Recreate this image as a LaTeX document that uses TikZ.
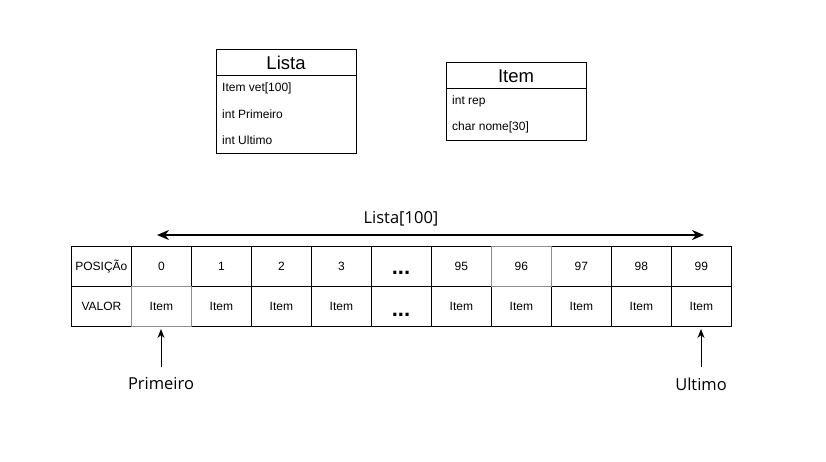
\documentclass[tikz,border=0pt]{standalone}
\usepackage{fontspec}
\setmainfont{Liberation Sans}
\newfontfamily\labelfont{Open Sans}
\usetikzlibrary{arrows.meta}
\begin{document}
\begin{tikzpicture}[x=1pt,y=-1pt,
  cell/.style={draw=black,line width=0.8pt,minimum width=60pt,minimum height=40pt,inner sep=0pt,anchor=north west,font=\fontsize{12}{14}\selectfont},
  greycell/.style={cell,draw=black!45},
  box/.style={draw=black,line width=0.8pt},
  fld/.style={anchor=west,inner sep=0pt,font=\fontsize{12}{14}\selectfont},
  ttl/.style={inner sep=0pt,font=\fontsize{18.5}{22}\selectfont},
  lbl/.style={inner sep=0pt,font=\labelfont\fontsize{16.5}{20}\selectfont},
  dots/.style={font=\bfseries\fontsize{22}{24}\selectfont,inner sep=0pt},
  ptr/.style={-{Stealth[length=9pt,width=7pt]},line width=1pt}]
\useasboundingbox (0,0) rectangle (826,461);
% Lista class box
\draw[box] (216,49) rectangle (356,153);
\draw[box] (216,75) -- (356,75);
\node[ttl] (listaT) at (286,63) {Lista};
\node[fld] (f1) at (222,88) {Item vet[100]};
\node[fld] (f2) at (222,114) {int Primeiro};
\node[fld] (f3) at (222,140) {int Ultimo};
% Item class box
\draw[box] (446,62) rectangle (586,140);
\draw[box] (446,88) -- (586,88);
\node[ttl] (itemT) at (516,76) {Item};
\node[fld] (g1) at (452,101) {int rep};
\node[fld] (g2) at (452,127) {char nome[30]};
% table
\foreach \i/\t in {0/POSIÇÃo,1/0,2/1,3/2,4/3,6/95,8/97,9/98,10/99}{
  \node[cell] (p\i) at ({71+60*\i},246) {\t};
}
\node[greycell] (p7) at (491,246) {96};
\node[cell] (p5) at (371,246) {};
\node[dots] (d1) at (401,273) {...};
\node[cell] (v0) at (71,286) {VALOR};
\foreach \i in {2,3,4,6,7,8,9,10}{
  \node[cell] (v\i) at ({71+60*\i},286) {Item};
}
\node[cell] (v5) at (371,286) {};
\node[dots] (d2) at (401,315) {...};
\node[greycell] (v1) at (131,286) {Item};
\draw[draw=black!45,line width=0.8pt] (v1.north west) rectangle (v1.south east);
\draw[draw=black!45,line width=0.8pt] (p7.north west) rectangle (p7.south east);
% double arrow
\coordinate (aL) at (157,235);
\coordinate (aR) at (704,235);
\draw[{Stealth[length=12pt,width=10pt]}-{Stealth[length=12pt,width=10pt]},line width=2.4pt] (aL) -- (aR);
\node[lbl] (lt) at (401,219) {Lista[100]};
% pointers
\node[lbl] (prim) at (161,384) {Primeiro};
\node[lbl] (ult) at (701,384) {Ultimo};
\coordinate (t1) at (161,329);
\coordinate (t2) at (701,329);
\coordinate (s1) at (161,367);
\coordinate (s2) at (701,367);
\draw[ptr] (s1) -- (t1);
\draw[ptr] (s2) -- (t2);
\end{tikzpicture}
\end{document}
